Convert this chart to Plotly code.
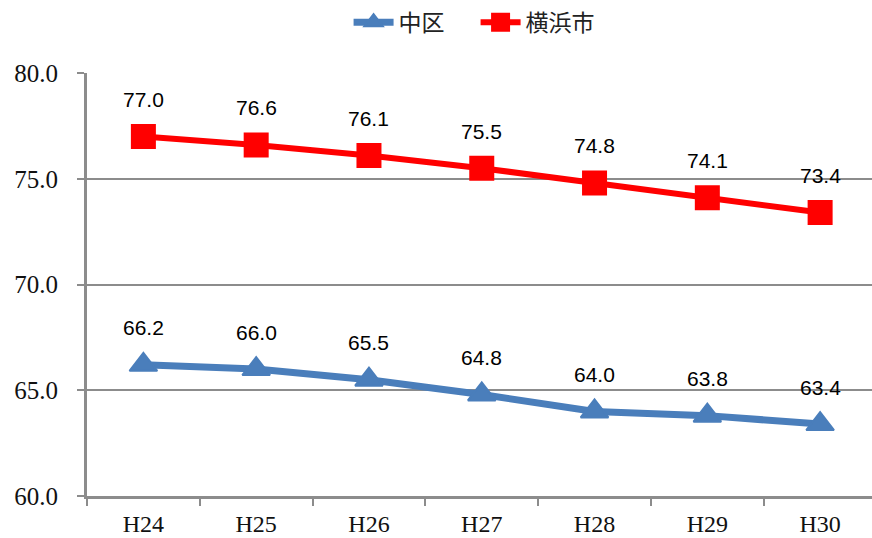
import plotly.graph_objects as go

years = ["H24", "H25", "H26", "H27", "H28", "H29", "H30"]
naka_ku = [66.2, 66.0, 65.5, 64.8, 64.0, 63.8, 63.4]
yokohama = [77.0, 76.6, 76.1, 75.5, 74.8, 74.1, 73.4]

BLUE = "#4a7ebb"
RED = "#ff0000"
GRID = "#8c8c8c"
SERIF = "Liberation Serif, Times New Roman, serif"

fig = go.Figure()
fig.add_trace(go.Scatter(
    x=years, y=naka_ku, name="中区", mode="lines+markers",
    line=dict(color=BLUE, width=7),
    marker=dict(symbol="triangle-up", size=24, color=BLUE,
                line=dict(color=BLUE, width=2)),
))
fig.add_trace(go.Scatter(
    x=years, y=yokohama, name="横浜市", mode="lines+markers",
    line=dict(color=RED, width=6),
    marker=dict(symbol="square", size=22, color=RED,
                line=dict(color=RED, width=3)),
))

# value labels above each point
for series in (naka_ku, yokohama):
    for yr, v in zip(years, series):
        fig.add_annotation(
            x=yr, y=v, text=f"{v:.1f}", showarrow=False, yshift=37,
            font=dict(family="Liberation Sans, Arial", size=21, color="#000000"),
        )

fig.update_layout(
    width=872, height=538,
    margin=dict(l=87, r=0, t=73, b=42, autoexpand=False),
    paper_bgcolor="white", plot_bgcolor="white",
    showlegend=True,
    legend=dict(
        orientation="h", x=0.495, xanchor="center", y=1.12, yanchor="middle",
        font=dict(family="Noto Sans CJK JP", size=23, color="#222222"),
        itemwidth=40, traceorder="normal",
        entrywidth=72, entrywidthmode="pixels",
    ),
    xaxis=dict(
        type="category", range=[-0.5, 6.46], automargin=False,
        tickson="boundaries", ticks="outside", ticklen=7, tickwidth=2,
        tickcolor=GRID, showline=True, linecolor=GRID, linewidth=3,
        showgrid=False, ticklabelstandoff=4,
        tickfont=dict(family=SERIF, size=24, color="#111111"),
    ),
    yaxis=dict(
        range=[60, 80], dtick=5, tickformat=".1f", automargin=False,
        ticks="outside", ticklen=7, tickwidth=2, tickcolor=GRID,
        showline=True, linecolor=GRID, linewidth=3,
        showgrid=True, gridcolor=GRID, gridwidth=2,
        zeroline=False, ticklabelstandoff=14,
        tickfont=dict(family=SERIF, size=25, color="#111111"),
    ),
)

fig.write_html("out.html")
